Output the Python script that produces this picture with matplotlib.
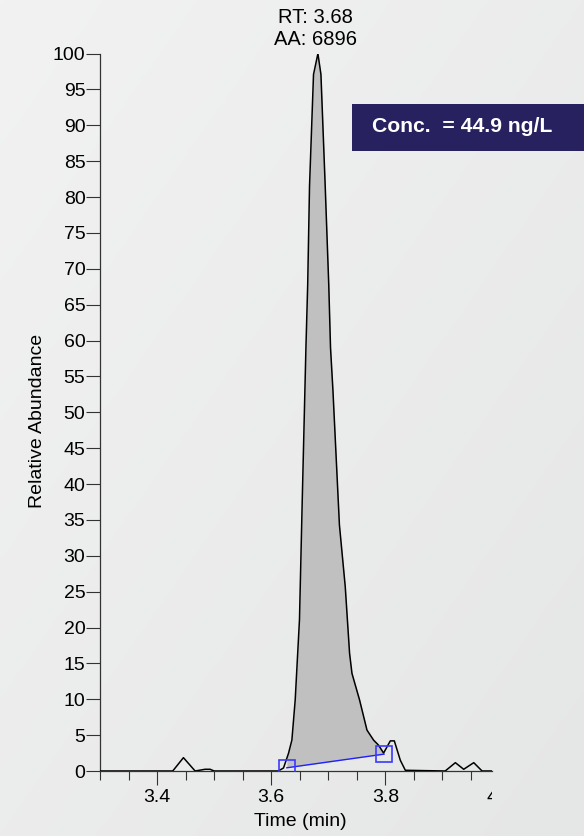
import numpy as np
import matplotlib
matplotlib.use("Agg")
import matplotlib.pyplot as plt
from matplotlib.patches import Rectangle
from matplotlib.ticker import MultipleLocator, FixedLocator
from matplotlib.transforms import Bbox, TransformedBbox, offset_copy

# chromatogram trace
time = [3.30, 3.4275, 3.4462, 3.4667, 3.4842, 3.4930, 3.5000, 3.6123, 3.6216,
        3.6304, 3.6363, 3.6421, 3.6496, 3.6544, 3.6609, 3.6640, 3.6672, 3.6742,
        3.6819, 3.6872, 3.6947, 3.7009, 3.7040, 3.7082, 3.7196, 3.7298, 3.7374,
        3.7416, 3.7549, 3.7679, 3.7795, 3.7882, 3.7970, 3.8088, 3.8158, 3.8263,
        3.8351, 3.9050, 3.9228, 3.9374, 3.9550, 3.9696, 3.99]
intensity = [0, 0, 1.86, 0, 0.24, 0.24, 0, 0, 0.42,
             2.47, 4.32, 9.9, 21.1, 37.6, 59.0, 67.8, 81.5, 97.1,
             100, 97.1, 81.5, 67.8, 59.0, 53.1, 34.3, 25.7, 16.4,
             13.6, 9.9, 5.7, 4.3, 3.6, 2.5, 4.2, 4.2, 1.5,
             0.1, 0, 1.16, 0.24, 1.16, 0, 0]

# integration baseline
base_t = [3.6275, 3.7977]
base_y = [0.45, 2.35]

rt = 3.682
area = 6896
conc_text = "Conc.  = 44.9 ng/L"

plt.rcParams['font.family'] = ['Liberation Sans', 'DejaVu Sans']
plt.rcParams['font.size'] = 14

fig = plt.figure(figsize=(5.84, 8.36), dpi=100)

# soft gray background gradient
bg = fig.add_axes([0, 0, 1, 1], zorder=-10)
gx, gy = np.meshgrid(np.linspace(0, 1, 200), np.linspace(0, 1, 200))
grad = 0.5 * gx + 0.5 * gy
bg.imshow(grad, cmap=matplotlib.colors.LinearSegmentedColormap.from_list(
    "bg", ["#f2f2f2", "#e5e6e6"]), extent=[0, 1, 0, 1], aspect='auto')
bg.axis('off')

ax = fig.add_axes([100 / 584, 65 / 836, 392 / 584, 717.4 / 836])
ax.set_facecolor('none')

t = np.array(time)
y = np.array(intensity)

# shaded integrated area between trace and baseline
mask = (t > base_t[0]) & (t < base_t[1])
ft = np.concatenate([[base_t[0]], t[mask], [base_t[1]]])
fy = np.interp(ft, t, y)
fb = np.interp(ft, base_t, base_y)
ax.fill_between(ft, fb, fy, color='#c0c0c0', linewidth=0, zorder=1)

ax.plot(t, y, color='black', linewidth=1.1, zorder=3)
ax.plot(base_t, base_y, color='#1f1fff', linewidth=1.0, marker='s', markersize=11,
        markerfacecolor='none', markeredgecolor='#3a3aff', markeredgewidth=1.2,
        zorder=4)

ax.set_xlim(3.3, 3.987)
ax.set_ylim(0, 100)

ax.xaxis.set_major_locator(FixedLocator([3.4, 3.6, 3.8]))
ax.xaxis.set_major_formatter(matplotlib.ticker.FormatStrFormatter('%g'))
ax.xaxis.set_minor_locator(MultipleLocator(0.05))
ax.yaxis.set_major_locator(MultipleLocator(5))

for s in ['top', 'right']:
    ax.spines[s].set_visible(False)
for s in ['left', 'bottom']:
    ax.spines[s].set_color('#333333')
    ax.spines[s].set_linewidth(0.9)

ax.tick_params(axis='x', which='major', length=10, width=0.8, color='#333333', pad=3)
ax.tick_params(axis='x', which='minor', length=6.5, width=0.8, color='#333333')
ax.tick_params(axis='y', which='major', length=10, width=0.8, color='#333333', pad=0.5)

# the "4" label at the end of the axis, cut off at the axis end
trans = offset_copy(ax.transAxes, fig=fig, y=-13, units='points')
four = ax.text(1.0, 0, "4", transform=trans, ha='center', va='top', clip_on=True)
four.set_clip_path(None)
four.set_clip_box(TransformedBbox(Bbox([[0, -0.2], [1, 0]]), ax.transAxes))

ax.set_xlabel("Time (min)")
ax.set_ylabel("Relative Abundance")
ax.xaxis.set_label_coords(0.51, -0.058)
ax.yaxis.set_label_coords(-0.138, 0.488)

ax.annotate(f"RT: {rt:.2f}\nAA: {area}", xy=(rt, 100), xytext=(-1.5, 3),
            textcoords='offset points', ha='center', va='bottom', fontsize=14.5,
            multialignment='center', linespacing=1.2, annotation_clip=False)

# concentration box
fig.patches.append(Rectangle((352 / 584, 685 / 836), 240 / 584, 47 / 836,
                             transform=fig.transFigure, facecolor='#282160',
                             edgecolor='none', zorder=5))
fig.text(372 / 584, 709 / 836, conc_text, color='white', fontweight='bold',
         fontsize=15.2, ha='left', va='center', zorder=6)

fig.savefig("out.png", dpi=100)
